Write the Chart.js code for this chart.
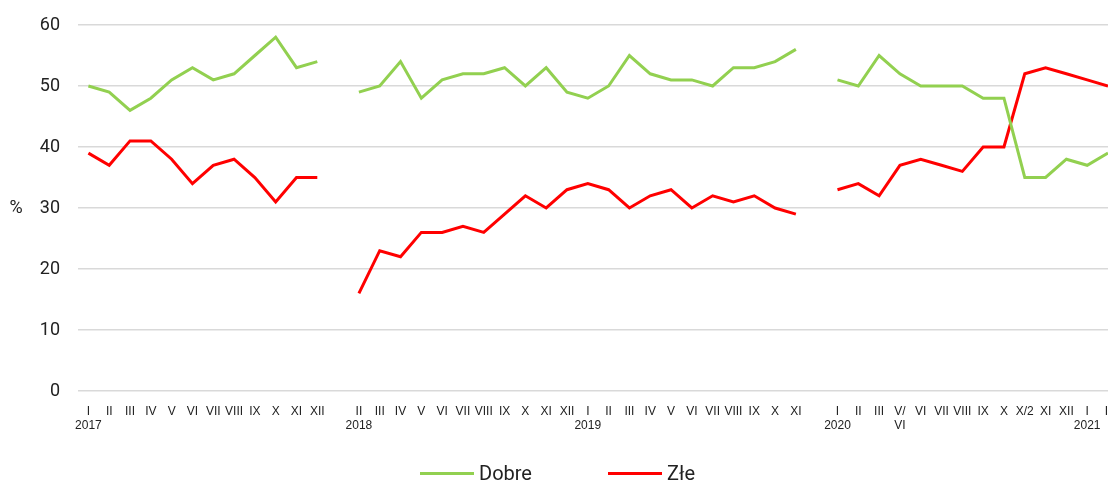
<!DOCTYPE html>
<html>
<head>
<meta charset="utf-8">
<script src="https://cdn.jsdelivr.net/npm/chart.js@4/dist/chart.umd.min.js"></script>
<style>
    html, body { margin: 0; padding: 0; background: #fff; overflow: hidden; }
    #wrap { position: relative; width: 1108px; height: 481px; }
    #legend {
        position: absolute; left: 0; right: 0; top: 461px;
        display: flex; justify-content: center; padding-left: 7px;
        font-family: Roboto, sans-serif; font-size: 20px; color: #222;
    }
    .item { display: flex; align-items: center; margin: 0 38px; }
    .swatch { width: 54px; height: 3px; margin-right: 5px; }
</style>
</head>
<body>
<div id="wrap">
    <canvas id="canvas-1" width="1108" height="481"></canvas>
    <div id="legend"></div>
</div>
<script>
'use strict';

// months (two-line labels carry the year), '' = gap in survey
var labels = [
    ['I', '2017'], 'II', 'III', 'IV', 'V', 'VI', 'VII', 'VIII', 'IX', 'X', 'XI', 'XII',
    '',
    ['II', '2018'], 'III', 'IV', 'V', 'VI', 'VII', 'VIII', 'IX', 'X', 'XI', 'XII',
    ['I', '2019'], 'II', 'III', 'IV', 'V', 'VI', 'VII', 'VIII', 'IX', 'X', 'XI',
    '',
    ['I', '2020'], 'II', 'III', ['V/', 'VI'], 'VI', 'VII', 'VIII', 'IX', 'X', 'X/2', 'XI', 'XII',
    ['I', '2021'], 'II'
];

var dobre = [
    50, 49, 46, 48, 51, 53, 51, 52, 55, 58, 53, 54,
    null,
    49, 50, 54, 48, 51, 52, 52, 53, 50, 53, 49,
    48, 50, 55, 52, 51, 51, 50, 53, 53, 54, 56,
    null,
    51, 50, 55, 52, 50, 50, 50, 48, 48, 35, 35, 38,
    37, 39
];

var zle = [
    39, 37, 41, 41, 38, 34, 37, 38, 35, 31, 35, 35,
    null,
    16, 23, 22, 26, 26, 27, 26, 29, 32, 30, 33,
    34, 33, 30, 32, 33, 30, 32, 31, 32, 30, 29,
    null,
    33, 34, 32, 37, 38, 37, 36, 40, 40, 52, 53, 52,
    51, 50
];

var yTicks = [0, 10, 20, 30, 40, 50, 60];

var toPoints = function (arr) {
    return arr.map(function (v, i) { return { x: i, y: v }; });
};

var datasets = [
    { label: 'Dobre', data: toPoints(dobre), borderColor: '#92d050', backgroundColor: '#92d050' },
    { label: 'Złe', data: toPoints(zle), borderColor: '#ff0000', backgroundColor: '#ff0000' }
];

// "%" sits upright left of the axis
var percentLabel = {
    id: 'percentLabel',
    afterDraw: function (chart) {
        var ctx = chart.ctx;
        var a = chart.chartArea;
        ctx.save();
        ctx.font = '18px Roboto';
        ctx.fillStyle = '#222';
        ctx.textAlign = 'center';
        ctx.textBaseline = 'middle';
        ctx.fillText('%', 16, (a.top + a.bottom) / 2);
        ctx.restore();
    }
};

var ctx = document.getElementById('canvas-1');
var chart = new Chart(ctx, {
    type: 'line',
    data: { datasets: datasets },
    plugins: [percentLabel],
    options: {
        responsive: false,
        animation: false,
        spanGaps: false,
        layout: { padding: { top: 25, right: 0, bottom: 50, left: 0 } },
        elements: {
            line: { borderWidth: 3, tension: 0 },
            point: { radius: 0 }
        },
        plugins: {
            legend: { display: false },
            tooltip: { enabled: false }
        },
        scales: {
            x: {
                type: 'linear',
                min: -0.5,
                max: labels.length - 1,
                grid: { display: false },
                border: { display: false },
                afterBuildTicks: function (scale) {
                    scale.ticks = labels.map(function (l, i) { return { value: i }; });
                },
                afterFit: function (scale) {
                    scale.height = 40;
                    scale.paddingLeft = 0;
                    scale.paddingRight = 0;
                },
                ticks: {
                    autoSkip: false,
                    maxRotation: 0,
                    padding: 6,
                    color: '#222',
                    font: { family: '"Liberation Sans Narrow", "Liberation Sans", sans-serif', size: 12, lineHeight: 1.15 },
                    callback: function (v) { return labels[v]; }
                }
            },
            y: {
                min: 0,
                max: 60,
                afterBuildTicks: function (scale) {
                    scale.ticks = yTicks.map(function (v) { return { value: v }; });
                },
                afterFit: function (scale) {
                    scale.width = 78;
                    scale.paddingTop = 0;
                    scale.paddingBottom = 0;
                },
                grid: { color: '#d9d9d9', lineWidth: 1.5, drawTicks: false },
                border: { display: false },
                ticks: {
                    padding: 18,
                    color: '#222',
                    font: { family: 'Roboto', size: 18 }
                }
            }
        }
    }
});

// legend built from the datasets
var legend = document.getElementById('legend');
chart.data.datasets.forEach(function (ds) {
    var item = document.createElement('div');
    item.className = 'item';
    var sw = document.createElement('span');
    sw.className = 'swatch';
    sw.style.background = ds.borderColor;
    var txt = document.createElement('span');
    txt.textContent = ds.label;
    item.appendChild(sw);
    item.appendChild(txt);
    legend.appendChild(item);
});
</script>
</body>
</html>
